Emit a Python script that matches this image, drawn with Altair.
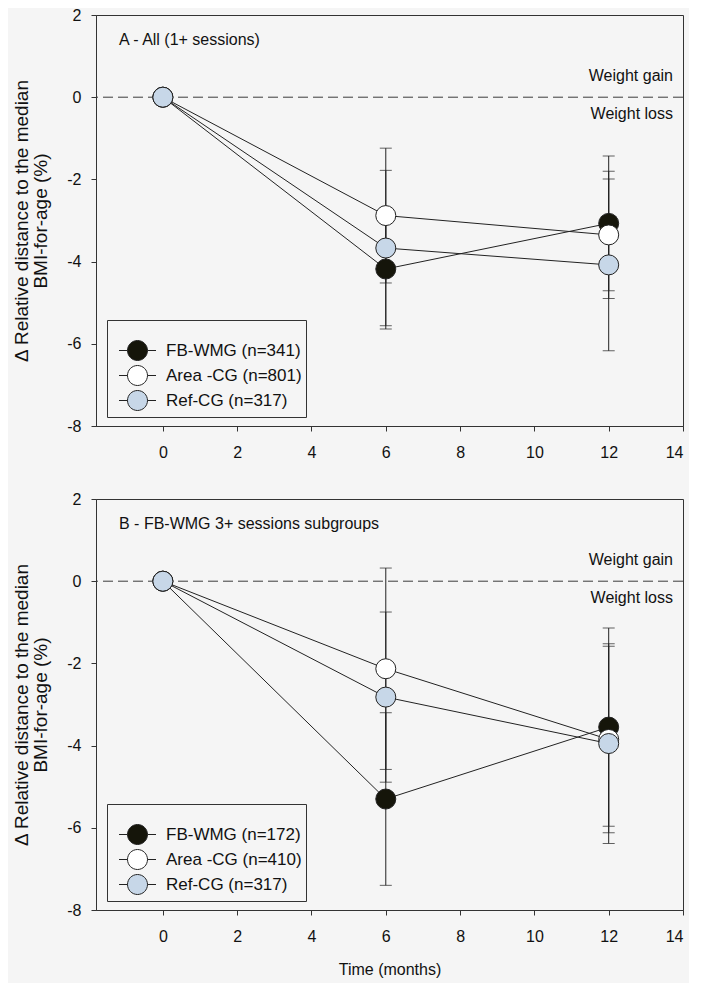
import altair as alt
import pandas as pd

FONT = "Liberation Sans"

months = [0, 6, 12]
groups = ["FB-WMG", "Area -CG", "Ref-CG"]
fills = ["#15150a", "#ffffff", "#c7d7e8"]

# Panel A - All (1+ sessions)
n_a = [341, 801, 317]
fb_a = [0, -4.18, -3.07]
fb_a_err = [0, 1.46, 1.64]
area_a = [0, -2.88, -3.35]
area_a_err = [0, 1.64, 1.55]
ref_a = [0, -3.67, -4.08]
ref_a_err = [0, 1.89, 2.09]

# Panel B - FB-WMG 3+ sessions subgroups
n_b = [172, 410, 317]
fb_b = [0, -5.30, -3.55]
fb_b_err = [0, 2.10, 2.41]
area_b = [0, -2.13, -3.85]
area_b_err = [0, 2.45, 2.27]
ref_b = [0, -2.82, -3.95]
ref_b_err = [0, 2.07, 2.43]

x_ticks = [0, 2, 4, 6, 8, 10, 12, 14]
y_ticks = [-8, -6, -4, -2, 0, 2]

LEGEND_SYMBOL = "M-1.85,0L-1,0M1,0L1.85,0M-1,0A1,1 0 1,0 1,0A1,1 0 1,0 -1,0Z"

W, H = 587, 411


def panel(means, errs, ns, label, xtitle):
    rows = []
    domain = []
    for g, n, m, e in zip(groups, ns, means, errs):
        lab = f"{g} (n={n})"
        domain.append(lab)
        for t, v, er in zip(months, m, e):
            rows.append(dict(month=t, value=v, err=er, lo=v - er, hi=v + er, series=lab))
    df = pd.DataFrame(rows)

    xax = alt.Axis(values=x_ticks, title=xtitle, labelExpr="'' + datum.value") if xtitle else \
        alt.Axis(values=x_ticks, title=None, labelExpr="'' + datum.value")
    x = alt.X("month:Q", scale=alt.Scale(domain=[-1.8, 14], nice=False, zero=False), axis=xax)
    y = alt.Y("value:Q", scale=alt.Scale(domain=[-8, 2], nice=False),
              axis=alt.Axis(values=y_ticks, labelExpr="'' + datum.value",
                            title=["\u0394 Relative distance to the median", "BMI-for-age (%)"]))

    zero = alt.Chart(pd.DataFrame({"value": [0]})).mark_rule(
        strokeDash=[10, 5], color="#3a3a3a", strokeWidth=1).encode(y="value:Q")

    base = alt.Chart(df)
    lines = base.mark_line(color="#222", strokeWidth=1).encode(x=x, y=y, detail="series:N")
    eb = base.transform_filter("datum.err > 0")
    rules = eb.mark_rule(color="#222", strokeWidth=1).encode(x="month:Q", y="lo:Q", y2="hi:Q")
    cap_lo = eb.mark_tick(orient="horizontal", size=12, thickness=1, color="#222").encode(
        x="month:Q", y="lo:Q")
    cap_hi = eb.mark_tick(orient="horizontal", size=12, thickness=1, color="#222").encode(
        x="month:Q", y="hi:Q")
    pts = base.mark_circle(size=400, stroke="#222", strokeWidth=1, opacity=1).encode(
        x="month:Q", y="value:Q",
        fill=alt.Fill("series:N", sort=domain,
                      scale=alt.Scale(domain=domain, range=fills),
                      legend=alt.Legend(title=" ", titleFontSize=12, titlePadding=4,
                                        orient="none", legendX=11, legendY=305,
                                        symbolType=LEGEND_SYMBOL, symbolSize=400,
                                        symbolStrokeColor="#222", symbolStrokeWidth=1,
                                        symbolOpacity=1, symbolOffset=16,
                                        labelFont=FONT, labelFontSize=17, labelColor="#111",
                                        labelOffset=18, rowPadding=0, padding=4,
                                        strokeColor="#333")))

    title_txt = alt.Chart(pd.DataFrame({"t": [label]})).mark_text(
        align="left", baseline="middle", fontSize=16, font=FONT, color="#111").encode(
        text="t:N", x=alt.value(23), y=alt.value(25))
    ann = pd.DataFrame({"t": ["Weight gain", "Weight loss"], "value": [0, 0]})
    gain = alt.Chart(ann.iloc[[0]]).mark_text(
        align="right", baseline="middle", dy=-21, fontSize=16, font=FONT, color="#111").encode(
        text="t:N", x=alt.value(577), y="value:Q")
    loss = alt.Chart(ann.iloc[[1]]).mark_text(
        align="right", baseline="middle", dy=17, fontSize=16, font=FONT, color="#111").encode(
        text="t:N", x=alt.value(577), y="value:Q")

    return alt.layer(zero, lines, rules, cap_lo, cap_hi, pts, title_txt, gain, loss).properties(
        width=W, height=H)


pa = panel([fb_a, area_a, ref_a], [fb_a_err, area_a_err, ref_a_err], n_a,
           "A - All (1+ sessions)", None)
pb = panel([fb_b, area_b, ref_b], [fb_b_err, area_b_err, ref_b_err], n_b,
           "B - FB-WMG 3+ sessions subgroups", "Time (months)")

chart = alt.vconcat(pa, pb, spacing=29).resolve_scale(fill="independent").configure(
    background="#f5f5f5",
    padding={"top": -2, "left": 4, "right": 5, "bottom": 5},
).configure_view(stroke="#333", strokeWidth=1).configure_axis(
    grid=False,
    domainColor="#333",
    tickColor="#333",
    tickSize=5,
    labelFont=FONT,
    labelFontSize=16,
    labelColor="#111",
    titleFont=FONT,
    titleFontSize=16,
    titleFontWeight="normal",
    titleColor="#111",
).configure_axisY(labelPadding=10, titlePadding=16, titleLineHeight=19,
                  titleFontSize=19).configure_axisX(labelPadding=13, titlePadding=17)

chart.save("out.html", embed_options={"renderer": "svg", "actions": False})
